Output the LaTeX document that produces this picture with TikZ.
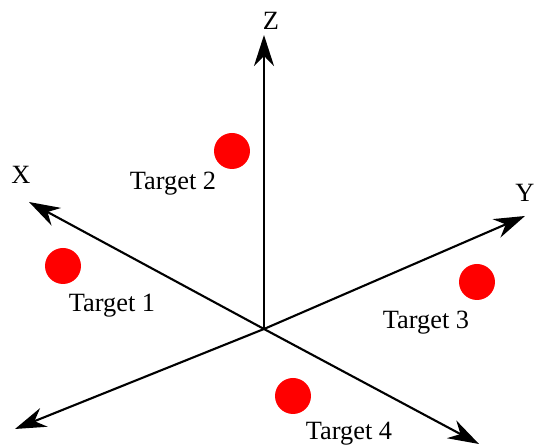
\documentclass[tikz,border=0pt]{standalone}
\usepackage{fontspec}
\setmainfont{Liberation Serif}
\usetikzlibrary{arrows.meta, positioning}

\begin{document}
\begin{tikzpicture}[x=0.02cm, y=-0.02cm,
    >={Stealth[length=0.62cm, width=0.4cm, inset=0.2cm]},
    axis/.style={->, black, line width=1.2pt},
    target/.style={circle, fill=red, inner sep=0pt, minimum size=0.72cm},
    lbl/.style={inner sep=0pt, font=\fontsize{15}{18}\selectfont}]
    \useasboundingbox (0,0) rectangle (535,448);

    % 1. Gốc và các đầu mút của trục
    \coordinate (O) at (264, 329);
    \coordinate (xtip) at (29, 202);
    \coordinate (ytip) at (525, 216);
    \coordinate (ztip) at (264, 35);
    \coordinate (xneg) at (479, 444);
    \coordinate (yneg) at (15, 429);

    % 2. Các trục có mũi tên
    \draw[axis] (O) -- (ztip);
    \draw[axis] (O) -- (xtip);
    \draw[axis] (O) -- (ytip);
    \draw[axis] (O) -- (yneg);
    \draw[axis] (O) -- (xneg);

    % 3. Nhãn trục
    \node[lbl] (xlab) at (21, 175) {X};
    \node[lbl] (ylab) at (525, 193) {Y};
    \node[lbl] (zlab) at (271, 21) {Z};

    % 4. Các mục tiêu (chấm tròn đỏ) và nhãn
    \node[target] (t1) at (63, 266) {};
    \node[target] (t2) at (232, 151) {};
    \node[target] (t3) at (477, 282) {};
    \node[target] (t4) at (293, 396) {};

    \node[lbl, anchor=base] (t1lab) at (112, 312) {Target 1};
    \node[lbl, anchor=base] (t2lab) at (173, 190) {Target 2};
    \node[lbl, anchor=base] (t3lab) at (426, 329) {Target 3};
    \node[lbl, anchor=base] (t4lab) at (349, 440) {Target 4};

\end{tikzpicture}
\end{document}
